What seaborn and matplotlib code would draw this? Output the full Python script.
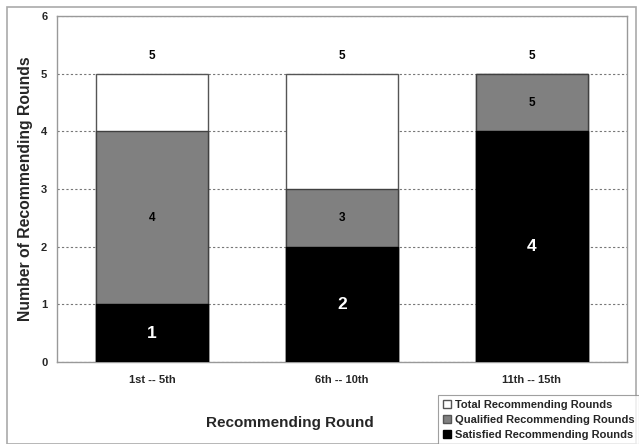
import matplotlib
matplotlib.use("Agg")
import matplotlib.pyplot as plt
import seaborn as sns
import pandas as pd
from matplotlib.patches import Patch, Rectangle

categories = ["1st -- 5th", "6th -- 10th", "11th -- 15th"]
total_rounds = [5, 5, 5]
qualified_rounds = [4, 3, 5]
satisfied_rounds = [1, 2, 4]
qualified_labels = ["4", "3", "5"]

sns.set_theme(style="white")
plt.rcParams['font.family'] = ['Liberation Sans', 'DejaVu Sans']

fig = plt.figure(figsize=(6.39, 4.44), dpi=100)
ax = fig.add_axes([57/639, 1 - 362/444, 570/639, 346/444])

df = pd.DataFrame({"cat": categories, "total": total_rounds,
                   "qual": qualified_rounds, "sat": satisfied_rounds})

w = 0.59
sns.barplot(data=df, x="cat", y="total", color="white", edgecolor="#555555",
            linewidth=1.0, width=w, ax=ax, saturation=1, zorder=2)
sns.barplot(data=df, x="cat", y="qual", color="#808080", edgecolor="#404040",
            linewidth=1.0, width=w, ax=ax, saturation=1, zorder=3)
sns.barplot(data=df, x="cat", y="sat", color="black", edgecolor="black",
            linewidth=1.0, width=w, ax=ax, saturation=1, zorder=4)

ax.set_ylim(0, 6)
ax.set_xlim(-0.5, 2.5)
ax.set_yticks(range(7))
ax.yaxis.grid(True, linestyle=(0, (2, 2)), color="#777777", linewidth=0.8, zorder=0)
ax.set_axisbelow(True)
for s in ax.spines.values():
    s.set_color("#999999")
    s.set_linewidth(1.0)
ax.tick_params(axis="y", labelsize=8, length=0, pad=7)
ax.tick_params(axis="x", labelsize=8, length=0, pad=9)
for lab in ax.get_xticklabels() + ax.get_yticklabels():
    lab.set_fontweight("bold")
ax.set_xlabel("")
ax.set_ylabel("Number of Recommending Rounds", fontsize=11.3, fontweight="bold")
ax.yaxis.set_label_coords(-24/570, 0.5)

for i in range(len(categories)):
    ax.text(i, total_rounds[i] + 0.3, str(total_rounds[i]), ha="center", va="center",
            fontsize=8.5, fontweight="bold", color="black", zorder=6)
    ax.text(i, (qualified_rounds[i] + satisfied_rounds[i]) / 2, qualified_labels[i],
            ha="center", va="center", fontsize=8.5, fontweight="bold", color="black", zorder=6)
    ax.text(i, satisfied_rounds[i] / 2, str(satisfied_rounds[i]), ha="center", va="center",
            fontsize=12.5, fontweight="bold", color="white", zorder=6)

fig.text(290/639, 1 - 423/444, "Recommending Round", ha="center", va="center",
         fontsize=11, fontweight="bold")

handles = [Patch(facecolor="white", edgecolor="#555555", label="Total Recommending Rounds"),
           Patch(facecolor="#808080", edgecolor="#555555", label="Qualified Recommending Rounds"),
           Patch(facecolor="black", edgecolor="black", label="Satisfied Recommending Rounds")]
leg = fig.legend(handles=handles, loc="lower right", bbox_to_anchor=(1.0, 0.0),
                 fontsize=8, frameon=True, fancybox=False, handlelength=0.75,
                 handleheight=0.75, handletextpad=0.35, labelspacing=0.45,
                 borderpad=0.4, borderaxespad=0.0)
leg.get_frame().set_edgecolor("#888888")
leg.get_frame().set_linewidth(0.8)
for t in leg.get_texts():
    t.set_fontweight("bold")

fig.patches.append(Rectangle((7/639, 0), 629/639, 1 - 7/444, transform=fig.transFigure,
                             fill=False, edgecolor="#aaaaaa", linewidth=1.2, zorder=0))

fig.savefig("out.png", dpi=100)
